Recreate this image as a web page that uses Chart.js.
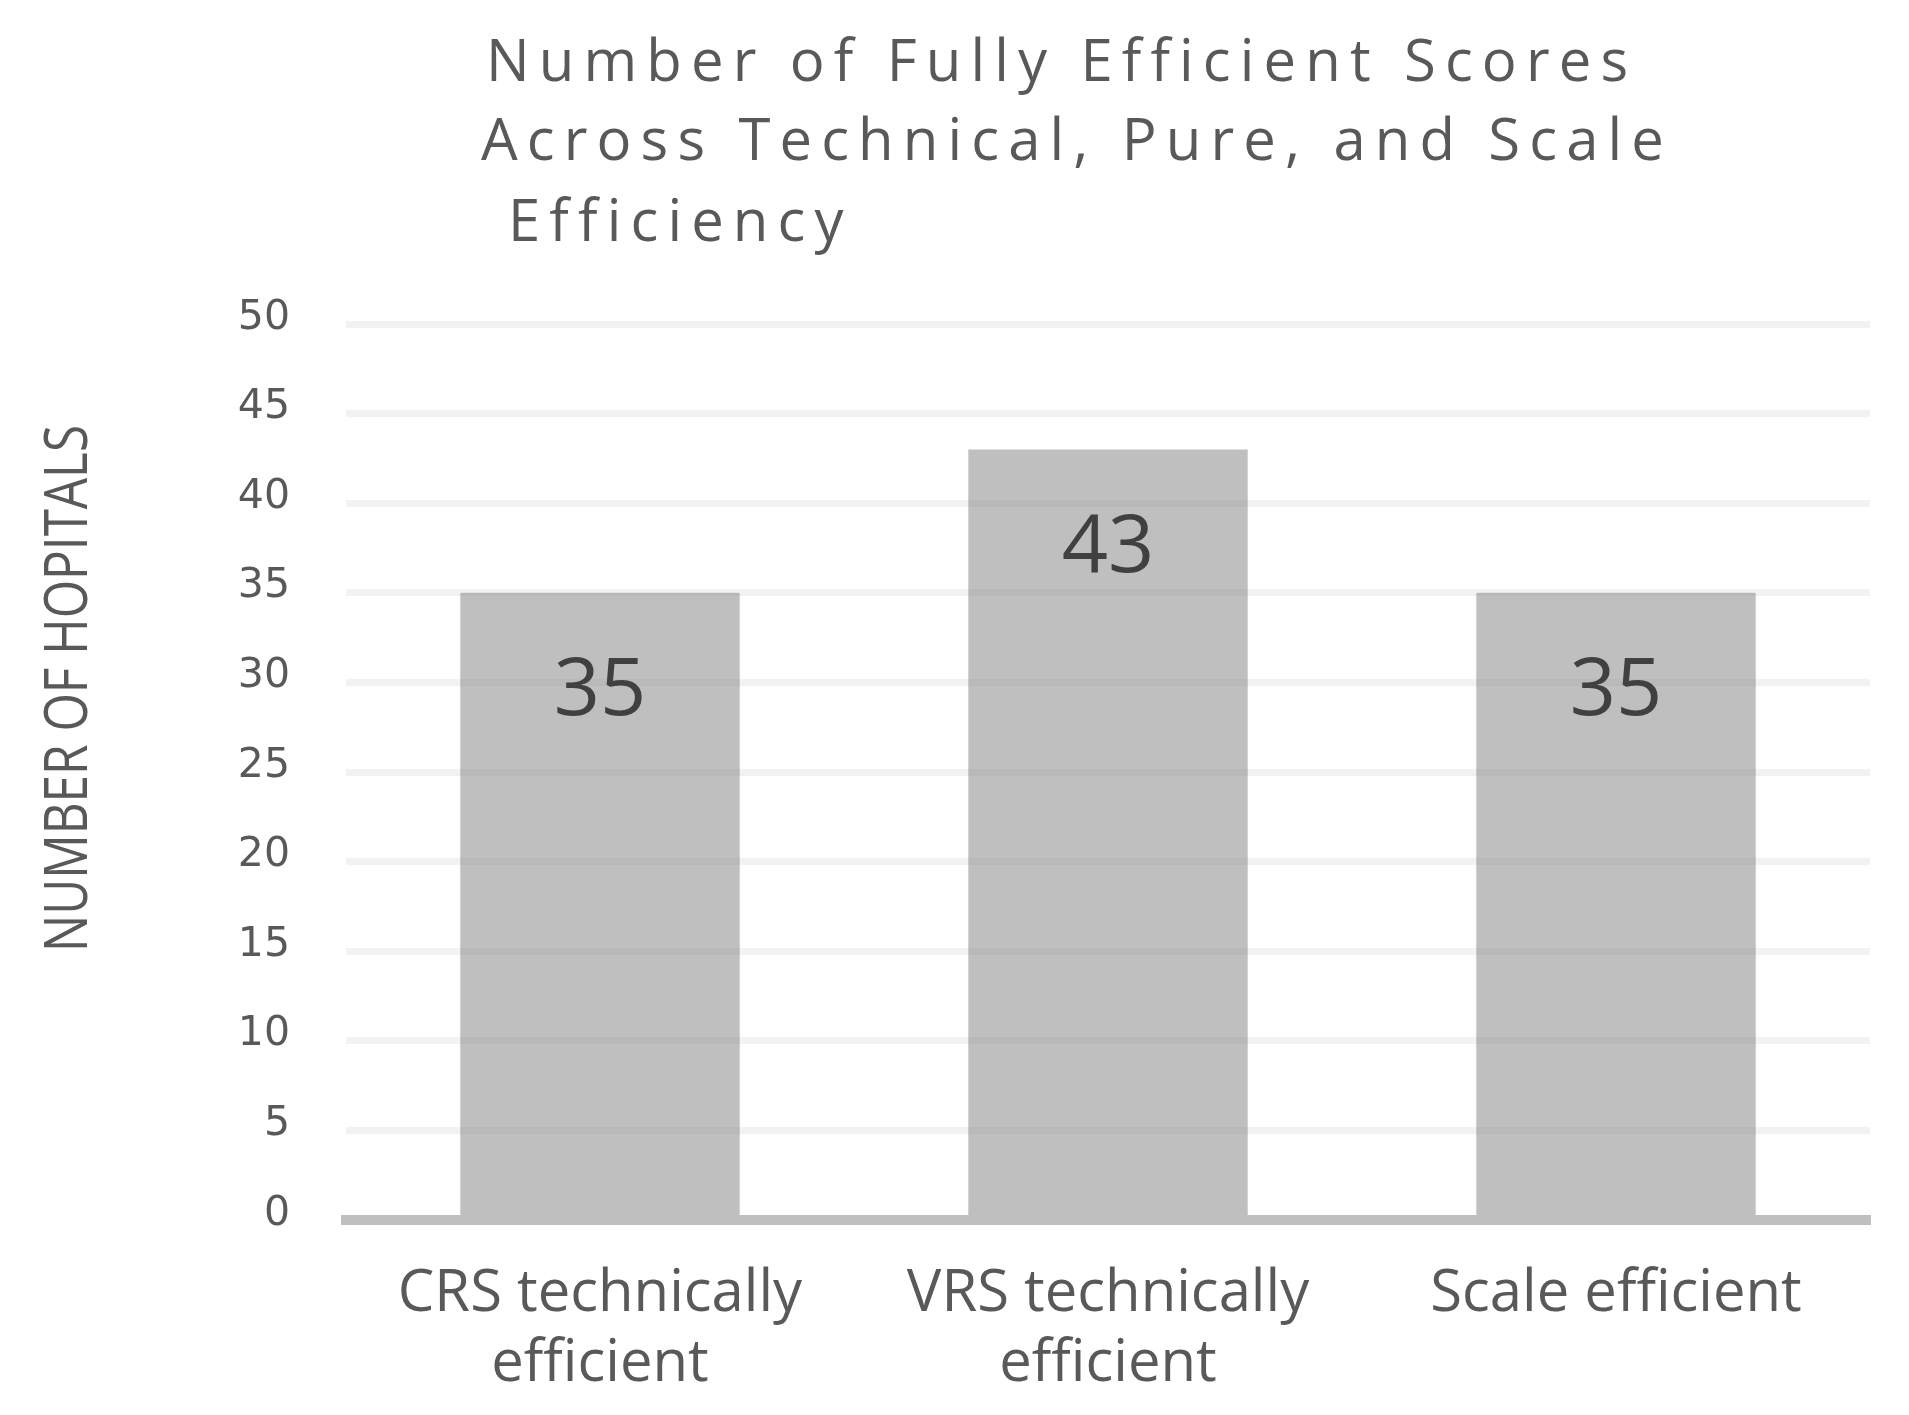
<!DOCTYPE html>
<html>
<head>
<meta charset="utf-8">
<script src="https://cdn.jsdelivr.net/npm/chart.js@4.4.1/dist/chart.umd.min.js"></script>
<style>
  html, body { margin: 0; padding: 0; background: #ffffff; }
  #wrap { width: 1909px; height: 1415px; position: relative; }
</style>
</head>
<body>
<div id="wrap"><canvas id="c"></canvas></div>
<script>
// ---- data ----
const categories = [["CRS technically", "efficient"], ["VRS technically", "efficient"], "Scale efficient"];
const values = [35, 43, 35];
const yMin = 0;
const yMax = 50;
const yStep = 5;
const titleLines = ["Number of Fully Efficient Scores", "Across Technical, Pure, and Scale", "Efficiency"];
const yAxisTitle = "NUMBER OF HOPITALS";

// ---- custom text plugin (chart title, y title, data labels) ----
const textPlugin = {
  id: 'textPlugin',
  afterDatasetsDraw(chart) {
    const ctx = chart.ctx;
    const meta = chart.getDatasetMeta(0);
    ctx.save();
    ctx.fillStyle = '#404040';
    ctx.font = '400 81px "Open Sans"';
    ctx.textAlign = 'center';
    ctx.textBaseline = 'middle';
    meta.data.forEach((bar, i) => {
      ctx.fillText(String(values[i]), bar.x, bar.y + 99);
    });
    ctx.restore();
  },
  afterDraw(chart) {
    const ctx = chart.ctx;
    // chart title
    ctx.save();
    ctx.fillStyle = '#595959';
    ctx.font = '400 58px "Open Sans"';
    ctx.textAlign = 'left';
    ctx.textBaseline = 'alphabetic';
    const base = ctx.measureText(titleLines[1]).width;
    const ls = (1183 - base) / (titleLines[1].length - 1);
    ctx.letterSpacing = ls.toFixed(2) + 'px';
    ctx.fillText(titleLines[0], 486, 81);
    ctx.fillText(titleLines[1], 481, 160);
    ctx.fillText(titleLines[2], 508, 241);
    ctx.restore();
    // y axis title
    ctx.save();
    ctx.fillStyle = '#595959';
    ctx.font = '400 61px "Open Sans"';
    ctx.textAlign = 'left';
    ctx.textBaseline = 'alphabetic';
    const w = ctx.measureText(yAxisTitle).width;
    ctx.translate(87, 952);
    ctx.rotate(-Math.PI / 2);
    ctx.scale(527 / w, 1);
    ctx.fillText(yAxisTitle, 0, 0);
    ctx.restore();
  }
};

new Chart(document.getElementById('c'), {
  type: 'bar',
  data: {
    labels: categories,
    datasets: [{
      data: values,
      backgroundColor: 'rgba(128,127,128,0.5)',
      borderWidth: 0,
      barPercentage: 0.55,
      categoryPercentage: 1.0
    }]
  },
  options: {
    responsive: true,
    maintainAspectRatio: false,
    devicePixelRatio: 1,
    animation: false,
    layout: { padding: { top: 324, right: 39, bottom: 0, left: 0 } },
    plugins: {
      legend: { display: false },
      title: { display: false },
      tooltip: { enabled: false }
    },
    scales: {
      x: {
        grid: { display: false, drawTicks: false },
        border: { display: true, color: '#c0bfc0', width: 10, z: 1 },
        ticks: {
          color: '#595959',
          font: { family: '"Open Sans"', size: 58, lineHeight: 1.207 },
          padding: 39,
          maxRotation: 0,
          autoSkip: false
        },
        afterFit(scale) { scale.height = 195; }
      },
      y: {
        min: yMin,
        max: yMax,
        grid: { color: '#f2f2f2', lineWidth: 7, drawTicks: false },
        border: { display: false },
        ticks: {
          stepSize: yStep,
          color: '#595959',
          font: { family: '"DejaVu Sans"', size: 41 },
          padding: 56,
          labelOffset: -6
        },
        afterFit(scale) { scale.width = 346; }
      }
    }
  },
  plugins: [textPlugin]
});
</script>
</body>
</html>
